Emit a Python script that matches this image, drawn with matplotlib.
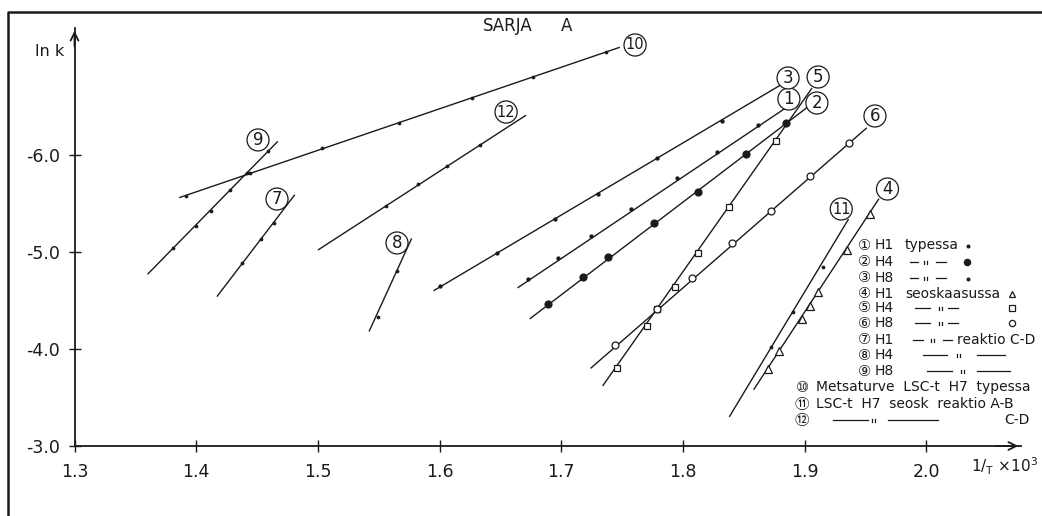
import matplotlib
matplotlib.use('Agg')
import matplotlib.pyplot as plt
from matplotlib.lines import Line2D

plt.rcParams['font.family'] = ['DejaVu Sans', 'Noto Sans CJK JP']
plt.rcParams['axes.unicode_minus'] = False

# ---------------- data ----------------
x_ticks = [1.3, 1.4, 1.5, 1.6, 1.7, 1.8, 1.9, 2.0]
y_ticks = [-3.0, -4.0, -5.0, -6.0]
series_ids = ['1', '2', '3', '4', '5', '6', '7', '8', '9', '10', '11', '12']

# fitted line end points
s1_line_x = [1.664, 1.885];  s1_line_y = [-4.63, -6.49]
s2_line_x = [1.674, 1.902];  s2_line_y = [-4.31, -6.49]
s3_line_x = [1.595, 1.880];  s3_line_y = [-4.60, -6.72]
s4_line_x = [1.858, 1.961];  s4_line_y = [-3.58, -5.55]
s5_line_x = [1.734, 1.906];  s5_line_y = [-3.62, -6.69]
s6_line_x = [1.724, 1.951];  s6_line_y = [-3.80, -6.28]
s7_line_x = [1.417, 1.481];  s7_line_y = [-4.54, -5.59]
s8_line_x = [1.542, 1.577];  s8_line_y = [-4.18, -5.14]
s9_line_x = [1.360, 1.467];  s9_line_y = [-4.77, -6.14]
s10_line_x = [1.386, 1.748]; s10_line_y = [-5.56, -7.11]
s11_line_x = [1.838, 1.936]; s11_line_y = [-3.30, -5.34]
s12_line_x = [1.500, 1.671]; s12_line_y = [-5.02, -6.41]

# measured points
s1_x = [1.673, 1.697, 1.724, 1.757, 1.795, 1.828, 1.862]
s1_y = [-4.72, -4.94, -5.16, -5.44, -5.76, -6.03, -6.31]
s2_x = [1.689, 1.718, 1.738, 1.776, 1.812, 1.852, 1.885]
s2_y = [-4.46, -4.74, -4.95, -5.30, -5.62, -6.01, -6.33]
s3_x = [1.600, 1.647, 1.695, 1.730, 1.779, 1.832]
s3_y = [-4.65, -4.99, -5.34, -5.60, -5.97, -6.35]
s4_x = [1.870, 1.879, 1.898, 1.904, 1.911, 1.935, 1.954]
s4_y = [-3.79, -3.98, -4.31, -4.44, -4.59, -5.02, -5.39]
s5_x = [1.746, 1.770, 1.779, 1.793, 1.812, 1.838, 1.876]
s5_y = [-3.80, -4.24, -4.41, -4.64, -4.99, -5.46, -6.14]
s6_x = [1.744, 1.779, 1.807, 1.840, 1.872, 1.904, 1.936]
s6_y = [-4.04, -4.41, -4.73, -5.09, -5.42, -5.78, -6.12]
s7_x = [1.438, 1.453, 1.464]
s7_y = [-4.89, -5.13, -5.30]
s8_x = [1.549, 1.565]
s8_y = [-4.33, -4.80]
s9_x = [1.381, 1.400, 1.412, 1.428, 1.442, 1.459]
s9_y = [-5.04, -5.27, -5.42, -5.64, -5.81, -6.04]
s10_x = [1.392, 1.444, 1.503, 1.567, 1.627, 1.677, 1.737]
s10_y = [-5.58, -5.81, -6.07, -6.33, -6.59, -6.80, -7.06]
s11_x = [1.872, 1.890, 1.915]
s11_y = [-4.02, -4.38, -4.85]
s12_x = [1.556, 1.582, 1.606, 1.633]
s12_y = [-5.47, -5.70, -5.89, -6.10]

line_xs = [s1_line_x, s2_line_x, s3_line_x, s4_line_x, s5_line_x, s6_line_x,
           s7_line_x, s8_line_x, s9_line_x, s10_line_x, s11_line_x, s12_line_x]
line_ys = [s1_line_y, s2_line_y, s3_line_y, s4_line_y, s5_line_y, s6_line_y,
           s7_line_y, s8_line_y, s9_line_y, s10_line_y, s11_line_y, s12_line_y]
pt_xs = [s1_x, s2_x, s3_x, s4_x, s5_x, s6_x, s7_x, s8_x, s9_x, s10_x, s11_x, s12_x]
pt_ys = [s1_y, s2_y, s3_y, s4_y, s5_y, s6_y, s7_y, s8_y, s9_y, s10_y, s11_y, s12_y]

# ---------------- styles / layout ----------------
INK = '#1a1a1a'
marker_styles = {
    '1': dict(marker='o', ms=2.2, mfc=INK),
    '2': dict(marker='o', ms=5, mfc=INK),
    '3': dict(marker='o', ms=2.2, mfc=INK),
    '4': dict(marker='^', ms=5.5, mfc='white'),
    '5': dict(marker='s', ms=5, mfc='white'),
    '6': dict(marker='o', ms=5, mfc='white'),
    '7': dict(marker='o', ms=1.8, mfc=INK),
    '8': dict(marker='o', ms=1.8, mfc=INK),
    '9': dict(marker='o', ms=1.8, mfc=INK),
    '10': dict(marker='o', ms=1.8, mfc=INK),
    '11': dict(marker='o', ms=1.8, mfc=INK),
    '12': dict(marker='o', ms=1.8, mfc=INK),
}
# circled label positions (data coords)
label_pos = {
    '1': (1.887, -6.577), '2': (1.910, -6.536), '3': (1.8863, -6.794),
    '4': (1.968, -5.649), '5': (1.911, -6.804), '6': (1.9577, -6.402),
    '7': (1.4664, -5.546), '8': (1.565, -5.093), '9': (1.4508, -6.155),
    '10': (1.7606, -7.134), '11': (1.930, -5.443), '12': (1.6546, -6.443),
}

W, H = 1042, 516
fig = plt.figure(figsize=(W / 100, H / 100), dpi=100)
fig.patch.set_facecolor('white')


def fx(x):
    return x / W


def fy(y):
    return 1 - y / H


ax = fig.add_axes([fx(74.5), fy(446), fx(1021) - fx(74.5), fy(28) - fy(446)])
ax.set_facecolor('none')
ax.set_xlim(1.3, 2.0777)
ax.set_ylim(-3.0, -7.309)

for sid, lx, ly, px, py in zip(series_ids, line_xs, line_ys, pt_xs, pt_ys):
    ax.plot(lx, ly, color=INK, lw=1.0, solid_capstyle='butt')
    st = marker_styles[sid]
    ax.plot(px, py, ls='none', marker=st['marker'], ms=st['ms'],
            mfc=st['mfc'], mec=INK, mew=0.9)
    tx, ty = label_pos[sid]
    fs = 12 if len(sid) == 1 else 10.5
    ax.text(tx, ty, sid, ha='center', va='center', fontsize=fs, color=INK,
            bbox=dict(boxstyle='circle,pad=0.12', fc='white', ec=INK, lw=0.9))

# axes appearance
for side in ['top', 'right']:
    ax.spines[side].set_visible(False)
for side in ['left', 'bottom']:
    ax.spines[side].set_color(INK)
    ax.spines[side].set_linewidth(1.3)
ax.set_xticks(x_ticks)
ax.set_xticklabels([f'{v:.1f}' for v in x_ticks])
ax.set_yticks(y_ticks)
ax.set_yticklabels([f'{v:.1f}' for v in y_ticks])
ax.tick_params(direction='inout', length=9, width=1.0, colors=INK,
               labelsize=12.5, pad=6)
ax.tick_params(axis='x', pad=8)
ax.annotate('', xy=(1.0, 0.0), xytext=(0.97, 0.0), xycoords='axes fraction',
            arrowprops=dict(arrowstyle='->', lw=1.3, color=INK,
                            mutation_scale=14), annotation_clip=False)
ax.annotate('', xy=(0.0, 1.0), xytext=(0.0, 0.95), xycoords='axes fraction',
            arrowprops=dict(arrowstyle='->', lw=1.3, color=INK,
                            mutation_scale=14), annotation_clip=False)

# axis titles and heading
fig.text(fx(50), fy(51), 'ln k', ha='center', va='center', fontsize=11.5, color=INK)
fig.text(fx(1038), fy(466), r'1/$_{\mathregular{T}}$ $\times$10$^{\mathregular{3}}$',
         ha='right', va='center', fontsize=11, color=INK)
fig.text(fx(508), fy(26), 'SARJA', ha='center', va='center', fontsize=12, color=INK)
fig.text(fx(567), fy(26), 'A', ha='center', va='center', fontsize=12, color=INK)

# outer frame (left and top edges)
fig.add_artist(Line2D([fx(8), fx(8), fx(1042)], [0, fy(12), fy(12)],
                      transform=fig.transFigure, color=INK, lw=1.8))

# ---------------- hand-drawn legend ----------------
LFS = 10
CFS = 10.5


def ftxt(x, y, s, fs=LFS, ha='left'):
    fig.text(fx(x), fy(y), s, ha=ha, va='center', fontsize=fs, color=INK)


def dash(x0, x1, y):
    fig.add_artist(Line2D([fx(x0), fx(x1)], [fy(y), fy(y)],
                          transform=fig.transFigure, color=INK, lw=0.9))


def ditto(x, y):
    for dx in (0, 3):
        fig.add_artist(Line2D([fx(x + dx), fx(x + dx)], [fy(y + 2), fy(y - 1.5)],
                              transform=fig.transFigure, color=INK, lw=0.9))


def fmark(x, y, key):
    st = marker_styles[key]
    fig.add_artist(Line2D([fx(x)], [fy(y)], transform=fig.transFigure,
                          ls='none', marker=st['marker'], ms=st['ms'] * 0.9,
                          mfc=st['mfc'], mec=INK, mew=0.9))


circ = ['\u2460', '\u2461', '\u2462', '\u2463', '\u2464', '\u2465',
        '\u2466', '\u2467', '\u2468', '\u2469', '\u246a', '\u246b']
rows_y = [245, 262, 278, 294, 308, 323, 340, 355, 371, 387, 404, 420]

# rows 1-9
h_labels = ['H1', 'H4', 'H8', 'H1', 'H4', 'H8', 'H1', 'H4', 'H8']
for i in range(9):
    y = rows_y[i]
    ftxt(864, y, circ[i], fs=CFS, ha='center')
    ftxt(875, y, h_labels[i])

ftxt(905, rows_y[0], 'typessa')
fmark(968, rows_y[0] + 1, '1')
dash(910, 918, rows_y[1]); ditto(924, rows_y[1]); dash(936, 946, rows_y[1])
fmark(967, rows_y[1], '2')
dash(910, 918, rows_y[2]); ditto(924, rows_y[2]); dash(936, 946, rows_y[2])
fmark(968, rows_y[2] + 1, '3')
ftxt(905, rows_y[3], 'seoskaasussa')
fmark(1012, rows_y[3], '4')
dash(915, 930, rows_y[4]); ditto(939, rows_y[4]); dash(948, 958, rows_y[4])
fmark(1012, rows_y[4], '5')
dash(915, 930, rows_y[5]); ditto(939, rows_y[5]); dash(948, 958, rows_y[5])
fmark(1012, rows_y[5], '6')
dash(913, 923, rows_y[6]); ditto(931, rows_y[6]); dash(943, 952, rows_y[6])
ftxt(957, rows_y[6], 'reaktio C-D')
dash(923, 947, rows_y[7]); ditto(957, rows_y[7]); dash(977, 1005, rows_y[7])
dash(927, 952, rows_y[8]); ditto(961, rows_y[8]); dash(977, 1010, rows_y[8])

# rows 10-12
ftxt(802, rows_y[9], circ[9], fs=CFS, ha='center')
ftxt(816, rows_y[9], 'Metsaturve  LSC-t  H7  typessa')
ftxt(802, rows_y[10], circ[10], fs=CFS, ha='center')
ftxt(816, rows_y[10], 'LSC-t  H7  seosk  reaktio A-B')
ftxt(802, rows_y[11], circ[11], fs=CFS, ha='center')
dash(833, 868, rows_y[11]); ditto(872, rows_y[11]); dash(888, 938, rows_y[11])
ftxt(1030, rows_y[11], 'C-D', ha='right')

fig.savefig('out.png', dpi=100, facecolor='white')
